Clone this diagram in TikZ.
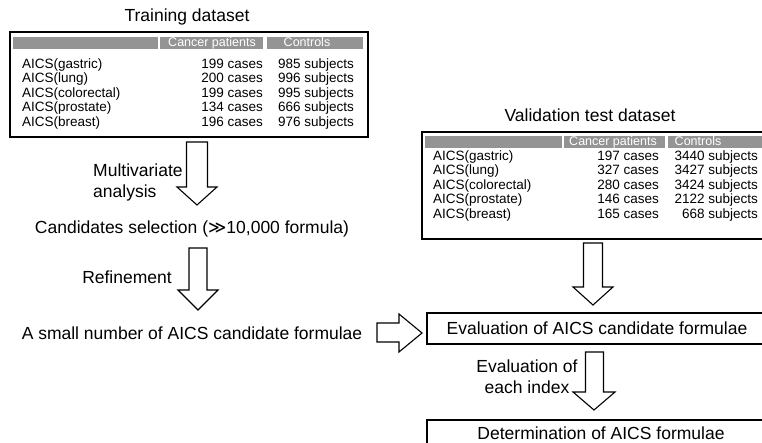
\documentclass[tikz,border=0pt]{standalone}
\usepackage{fontspec}
\setmainfont{Liberation Sans}
\newfontfamily\symfont{DejaVu Sans}
\begin{document}
\begin{tikzpicture}[x=1pt,y=-1pt,
  big/.style={font=\fontsize{17.5}{21}\selectfont, inner sep=0pt, align=center},
  row/.style={font=\fontsize{13.5}{14}\selectfont, inner sep=0pt, text height=9.7pt, text depth=2.9pt},
  hdr/.style={fill=black!42, draw=none},
  hdrtxt/.style={font=\fontsize{12.5}{13}\selectfont, text=white, inner sep=0pt, anchor=base},
  frame/.style={draw=black, line width=1.4pt},
  blk/.style={draw=black, line width=1.1pt, fill=white, line join=miter}]
\clip (0,0) rectangle (762,443);
\fill[white] (0,0) rectangle (762,443);

% ---------- Training dataset ----------
\node[big] (ttitle) at (187,17) {Training dataset};
\draw[frame] (10,32) rectangle (368,137);
\fill[hdr] (13,37) rectangle (158,49.5);
\fill[hdr] (160,37) rectangle (263,49.5);
\fill[hdr] (267,37) rectangle (363,49.5);
\node[hdrtxt] (th1) at (212,46.5) {Cancer patients};
\node[hdrtxt] (th2) at (307,46.5) {Controls};
\foreach \y/\a/\b/\c [count=\i] in {65/gastric/199/985, 79.5/lung/200/996, 94/colorectal/199/995, 108.5/prostate/134/666, 123/breast/196/976}{
  \node[row, anchor=west] (tn\i) at (22,\y) {AICS(\a)};
  \node[row, anchor=east] (tc\i) at (263,\y) {\b{} cases};
  \node[row, anchor=east] (ts\i) at (354,\y) {\c{} subjects};
}

% ---------- Validation dataset ----------
\node[big] (vtitle) at (590,115) {Validation test dataset};
\draw[frame] (422,132) rectangle (790,239);
\fill[hdr] (425,136) rectangle (562,148.5);
\fill[hdr] (564,136) rectangle (665,148.5);
\fill[hdr] (668,136) rectangle (790,148.5);
\node[hdrtxt] (vh1) at (613,145.5) {Cancer patients};
\node[hdrtxt] (vh2) at (698,145.5) {Controls};
\foreach \y/\a/\b/\c [count=\i] in {157/gastric/197/3440, 171.5/lung/327/3427, 186/colorectal/280/3424, 200.5/prostate/146/2122, 215/breast/165/668}{
  \node[row, anchor=west] (vn\i) at (433,\y) {AICS(\a)};
  \node[row, anchor=east] (vc\i) at (659,\y) {\b{} cases};
  \node[row, anchor=east] (vs\i) at (758,\y) {\c{} subjects};
}

% ---------- Left flow ----------
\node[big] (cand) at (192,229) {Candidates selection ({\symfont ≫}10,000 formula)};
\node[big] (small) at (192,333) {A small number of AICS candidate formulae};
\node[big, align=left, anchor=west] (mva) at (93,182.5) {Multivariate\\analysis};
\node[big] (ref) at (127,277) {Refinement};

% block arrow 1
\draw[blk] (186.5,142) -- (207.5,142) -- (207.5,187) -- (217,187) -- (197,205)
  -- (177,187) -- (186.5,187) -- cycle;
% block arrow 2
\draw[blk] (189,248) -- (207,248) -- (207,290) -- (218,290) -- (198,310)
  -- (178,290) -- (189,290) -- cycle;
% right arrow
\draw[blk] (377,323) -- (399,323) -- (399,314) -- (422,333) -- (399,352)
  -- (399,342) -- (377,342) -- cycle;

% ---------- Right flow ----------
\draw[frame] (427,313) rectangle (790,344);
\node[big] (eval) at (597,328.5) {Evaluation of AICS candidate formulae};
\draw[frame] (427,420) rectangle (790,460);
\node[big] (det) at (601,433) {Determination of AICS formulae};
\node[big] (each) at (527,377) {Evaluation of\\each index};

% block arrow 3
\draw[blk] (583.5,243) -- (602.5,243) -- (602.5,287) -- (613,287) -- (593,305)
  -- (573,287) -- (583.5,287) -- cycle;
% block arrow 4
\draw[blk] (585.5,352) -- (603.5,352) -- (603.5,392) -- (615,392) -- (594,410)
  -- (573,392) -- (585.5,392) -- cycle;
\end{tikzpicture}
\end{document}
